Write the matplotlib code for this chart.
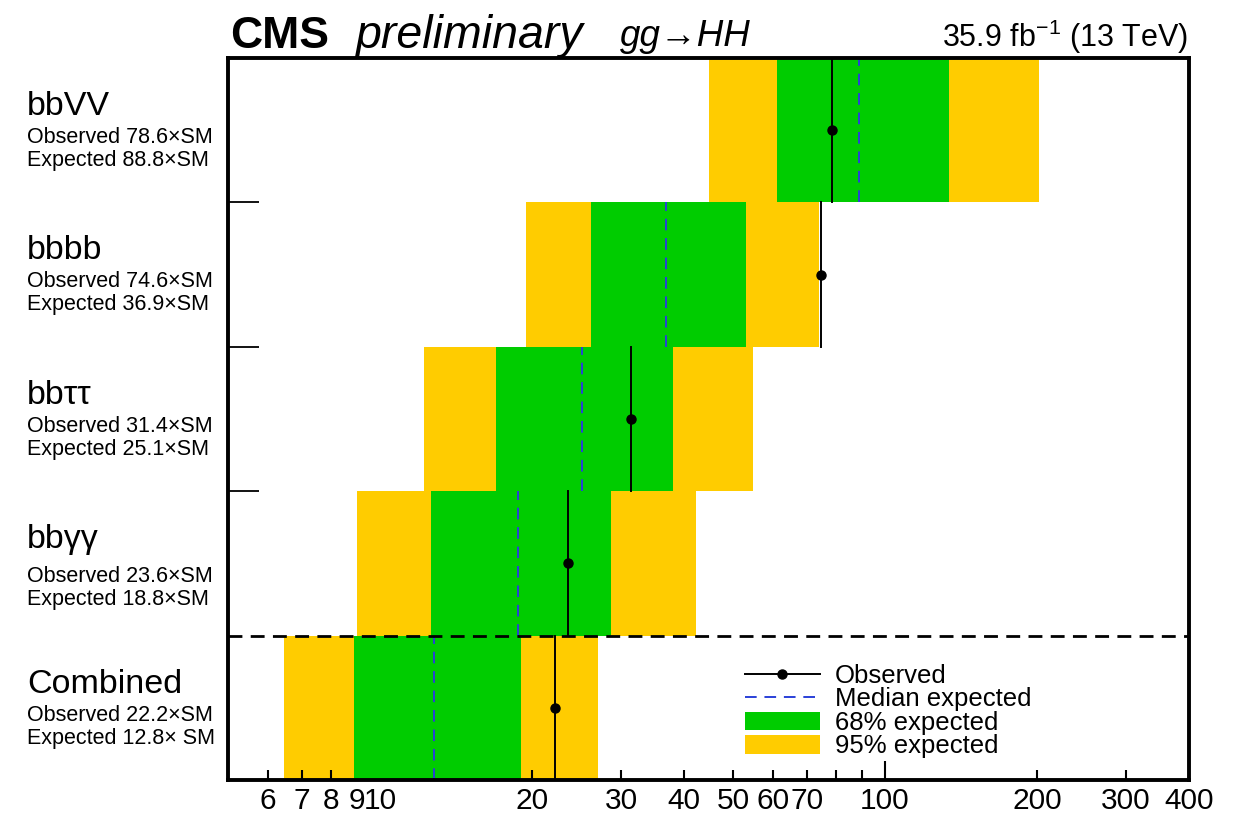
import matplotlib
matplotlib.use("Agg")
import matplotlib.pyplot as plt
from matplotlib.ticker import FixedLocator, FixedFormatter
from matplotlib.lines import Line2D
from matplotlib.patches import Patch

plt.rcParams['font.family'] = ['Liberation Sans', 'DejaVu Sans']

# channel order from top to bottom
channels = ['bbVV', 'bbbb', 'bbττ', 'bbγγ', 'Combined']
obs_text = ['Observed 78.6×SM', 'Observed 74.6×SM', 'Observed 31.4×SM',
            'Observed 23.6×SM', 'Observed 22.2×SM']
exp_text = ['Expected 88.8×SM', 'Expected 36.9×SM', 'Expected 25.1×SM',
            'Expected 18.8×SM', 'Expected 12.8× SM']
observed = [78.6, 74.6, 31.4, 23.6, 22.2]
expected = [88.8, 36.9, 25.1, 18.8, 12.8]
lo95 = [44.8, 19.5, 12.2, 9.0, 6.45]
lo68 = [61.1, 26.2, 17.0, 12.6, 8.88]
hi68 = [133.9, 53.1, 38.0, 28.7, 19.0]
hi95 = [201.8, 74.0, 54.8, 42.2, 27.0]

major_ticks = [10, 100]
minor_ticks = [6, 7, 8, 9, 20, 30, 40, 50, 60, 70, 80, 90, 200, 300, 400]
minor_labels = ['6', '7', '8', '9', '20', '30', '40', '50', '60', '70', '', '', '200', '300', '400']

green = '#00cc00'
yellow = '#ffcc00'
blue = '#2a40d8'

fig = plt.figure(figsize=(12.45, 8.19), dpi=100)
ax = fig.add_axes([228/1245, 1 - 780/819, (1189-228)/1245, (780-58)/819])

n = len(channels)
rows = [n - 1 - i for i in range(n)]  # bottom edge of each row

for i in range(n):
    y0 = rows[i]
    ax.barh(y0 + 0.5, hi95[i] - lo95[i], left=lo95[i], height=1.0, color=yellow, lw=0, zorder=1)
    ax.barh(y0 + 0.5, hi68[i] - lo68[i], left=lo68[i], height=1.0, color=green, lw=0, zorder=2)
    ax.plot([expected[i], expected[i]], [y0, y0 + 1], color=blue, lw=1.4, ls=(0, (6, 4)), zorder=3)
    ax.plot([observed[i], observed[i]], [y0, y0 + 1], color='black', lw=1.4, zorder=4)
    ax.plot(observed[i], y0 + 0.5, 'o', color='black', ms=6.5, zorder=5)

ax.axhline(1, color='black', lw=2, ls=(0, (5, 3)), zorder=6)

ax.set_xscale('log')
ax.set_xlim(5, 400)
ax.set_ylim(0, n)

ax.xaxis.set_major_locator(FixedLocator(major_ticks))
ax.xaxis.set_major_formatter(FixedFormatter(['10', '100']))
ax.xaxis.set_minor_locator(FixedLocator(minor_ticks))
ax.xaxis.set_minor_formatter(FixedFormatter(minor_labels))
ax.tick_params(axis='x', which='major', direction='in', length=14, width=1.5, labelsize=21.5, pad=5)
ax.tick_params(axis='x', which='minor', direction='in', length=7, width=1.5, labelsize=21.5, pad=5)
ax.set_yticks([2, 3, 4])
ax.tick_params(axis='y', which='major', direction='in', length=22, width=1.3, labelleft=False)

for s in ax.spines.values():
    s.set_linewidth(2.8)
    s.set_zorder(10)

# row labels on the left
for i in range(n):
    top = 58 + 144.4 * i
    extra = 6 if i == 3 else 0
    fig.text(27/1245, 1 - (top + 57)/819, channels[i], fontsize=24.5)
    fig.text(27/1245, 1 - (top + 85 + extra)/819, obs_text[i], fontsize=15.5)
    fig.text(27/1245, 1 - (top + 108 + extra)/819, exp_text[i], fontsize=15.5)

# header
fig.text(230/1245, 1 - 48/819, 'CMS', fontsize=32, fontweight='bold')
fig.text(355/1245, 1 - 48/819, 'preliminary', fontsize=33.5, style='italic')
fig.text(620/1245, 1 - 46/819, 'gg→HH', fontsize=26.5, style='italic')
fig.text(1188/1245, 1 - 47/819, r'35.9 fb$^{\mathregular{-1}}$ (13 TeV)', fontsize=22, ha='right')

handles = [Line2D([0], [0], color='black', lw=1.4, marker='o', ms=6.5),
           Line2D([0], [0], color=blue, lw=1.4, ls=(0, (6, 4))),
           Patch(color=green, lw=0),
           Patch(color=yellow, lw=0)]
labels = ['Observed', 'Median expected', '68% expected', '95% expected']
ax.legend(handles, labels, loc='upper left', bbox_to_anchor=((745-228)/961, (780-664)/722),
          frameon=False, fontsize=18.5, handlelength=2.9, handleheight=0.75,
          handletextpad=0.6, labelspacing=-0.02, borderpad=0, borderaxespad=0)

fig.savefig('out.png', dpi=100)
